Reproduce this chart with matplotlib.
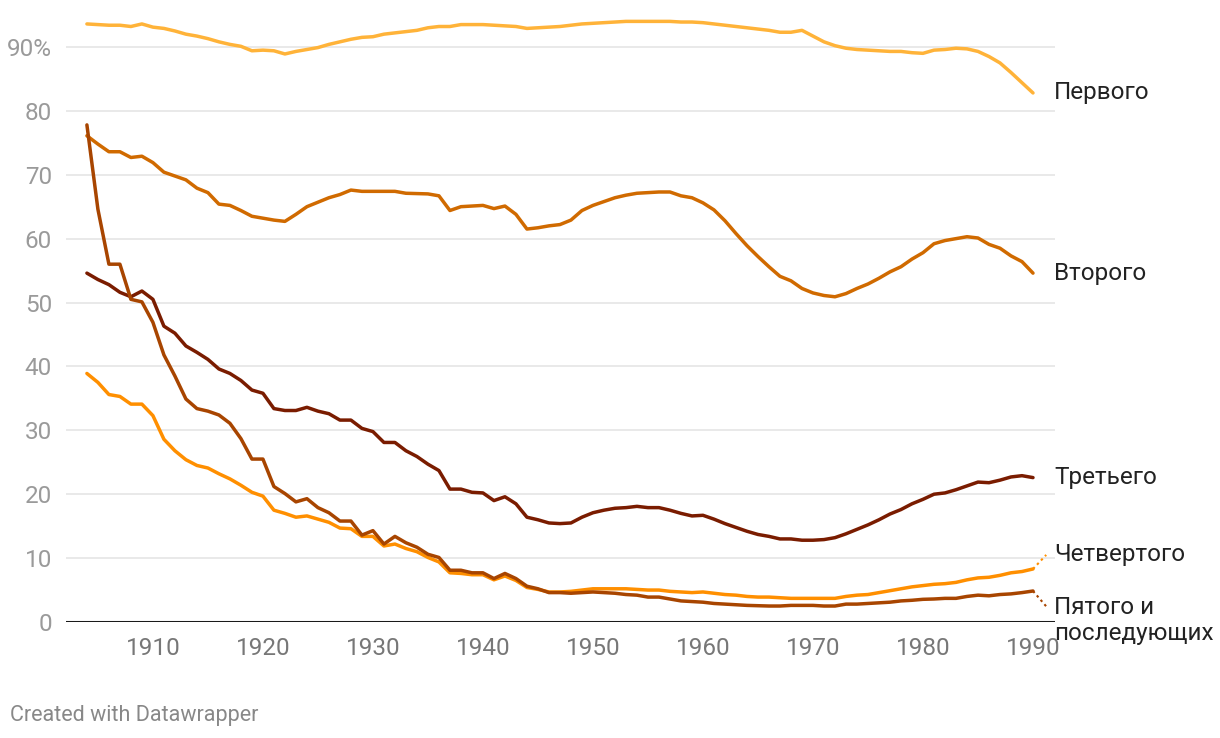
import numpy as np
import matplotlib.pyplot as plt

plt.rcParams['font.family'] = ['Roboto', 'DejaVu Sans']

years = list(range(1904, 1991))

first = [93.6, 93.5, 93.4, 93.4, 93.2, 93.6, 93.1, 92.9, 92.5, 92.0,
         91.7, 91.3, 90.8, 90.4, 90.1, 89.4, 89.5, 89.4, 88.9, 89.3,
         89.6, 89.9, 90.4, 90.8, 91.2, 91.5, 91.6, 92.0, 92.2, 92.4,
         92.6, 93.0, 93.2, 93.2, 93.5, 93.5, 93.5, 93.4, 93.3, 93.2,
         92.9, 93.0, 93.1, 93.2, 93.4, 93.6, 93.7, 93.8, 93.9, 94.0,
         94.0, 94.0, 94.0, 94.0, 93.9, 93.9, 93.8, 93.6, 93.4, 93.2,
         93.0, 92.8, 92.6, 92.3, 92.3, 92.6, 91.7, 90.8, 90.2, 89.8,
         89.6, 89.5, 89.4, 89.3, 89.3, 89.1, 89.0, 89.5, 89.6, 89.8,
         89.7, 89.3, 88.5, 87.5, 86.0, 84.4, 82.8]

second = [76.1, 74.8, 73.6, 73.6, 72.7, 72.9, 71.9, 70.4, 69.8, 69.2,
          67.9, 67.2, 65.4, 65.2, 64.4, 63.5, 63.2, 62.9, 62.7, 63.8,
          65.0, 65.7, 66.4, 66.9, 67.6, 67.4, 67.4, 67.4, 67.4, 67.1,
          67.05, 67.0, 66.7, 64.4, 65.0, 65.1, 65.2, 64.7, 65.1, 63.8,
          61.5, 61.7, 62.0, 62.2, 62.9, 64.4, 65.2, 65.8, 66.4, 66.8,
          67.1, 67.2, 67.3, 67.3, 66.7, 66.4, 65.6, 64.5, 62.8, 60.8,
          58.9, 57.2, 55.6, 54.1, 53.4, 52.2, 51.5, 51.1, 50.9, 51.4,
          52.2, 52.9, 53.8, 54.8, 55.6, 56.8, 57.8, 59.2, 59.7, 60.0,
          60.3, 60.1, 59.1, 58.5, 57.3, 56.4, 54.6]

third = [54.6, 53.6, 52.8, 51.6, 50.9, 51.8, 50.5, 46.3, 45.2, 43.2,
         42.2, 41.1, 39.6, 38.9, 37.8, 36.3, 35.8, 33.4, 33.1, 33.1,
         33.6, 33.0, 32.6, 31.6, 31.6, 30.3, 29.8, 28.1, 28.1, 26.8,
         25.9, 24.7, 23.7, 20.8, 20.8, 20.3, 20.2, 19.0, 19.6, 18.5,
         16.4, 16.0, 15.5, 15.4, 15.5, 16.4, 17.1, 17.5, 17.8, 17.9,
         18.1, 17.9, 17.9, 17.5, 17.0, 16.6, 16.7, 16.1, 15.4, 14.8,
         14.2, 13.7, 13.4, 13.0, 13.0, 12.8, 12.8, 12.9, 13.2, 13.8,
         14.5, 15.2, 16.0, 16.9, 17.6, 18.5, 19.2, 20.0, 20.2, 20.7,
         21.3, 21.9, 21.8, 22.2, 22.7, 22.9, 22.6]

fourth = [38.9, 37.5, 35.6, 35.3, 34.1, 34.1, 32.3, 28.6, 26.8, 25.4,
          24.5, 24.1, 23.2, 22.4, 21.4, 20.3, 19.7, 17.5, 17.0, 16.4,
          16.6, 16.1, 15.6, 14.7, 14.6, 13.4, 13.4, 11.9, 12.2, 11.5,
          11.0, 10.1, 9.4, 7.7, 7.6, 7.4, 7.4, 6.6, 7.2, 6.5,
          5.4, 5.1, 4.7, 4.7, 4.8, 5.0, 5.2, 5.2, 5.2, 5.2,
          5.1, 5.0, 5.0, 4.8, 4.7, 4.6, 4.7, 4.5, 4.3, 4.2,
          4.0, 3.9, 3.9, 3.8, 3.7, 3.7, 3.7, 3.7, 3.7, 4.0,
          4.2, 4.3, 4.6, 4.9, 5.2, 5.5, 5.7, 5.9, 6.0, 6.2,
          6.6, 6.9, 7.0, 7.3, 7.7, 7.9, 8.3]

fifth = [77.8, 64.6, 56.0, 56.0, 50.5, 50.1, 46.9, 41.8, 38.5, 34.9,
         33.4, 33.0, 32.4, 31.1, 28.7, 25.5, 25.5, 21.2, 20.1, 18.8,
         19.3, 17.9, 17.1, 15.8, 15.8, 13.6, 14.3, 12.2, 13.4, 12.4,
         11.7, 10.6, 10.1, 8.1, 8.1, 7.7, 7.7, 6.8, 7.6, 6.8,
         5.6, 5.2, 4.6, 4.6, 4.5, 4.6, 4.7, 4.6, 4.5, 4.3,
         4.2, 3.9, 3.9, 3.6, 3.3, 3.2, 3.1, 2.9, 2.8, 2.7,
         2.6, 2.55, 2.5, 2.5, 2.6, 2.6, 2.6, 2.5, 2.5, 2.8,
         2.8, 2.9, 3.0, 3.1, 3.3, 3.4, 3.55, 3.6, 3.7, 3.7,
         4.0, 4.2, 4.1, 4.3, 4.4, 4.6, 4.85]

names = ['Первого', 'Второго', 'Третьего', 'Четвертого', 'Пятого и\nпоследующих']
colors = ['#ffb339', '#d06a00', '#7a1c00', '#ff8f00', '#a84500']
# label shift from the line end, in data units (0 = no leader line)
label_shift = [0, 0, 0, 2.2, -2.4]

series = [first, second, third, fourth, fifth]

fig = plt.figure(figsize=(12.2, 7.38), dpi=100)
ax = fig.add_axes([66 / 1220, 1 - 622 / 738, (1055 - 66) / 1220, (622 - 15) / 738])

for vals, col in zip(series, colors):
    ax.plot(years, vals, color=col, lw=2.5, solid_capstyle='round',
            solid_joinstyle='round', zorder=3)

ax.set_xlim(1902.1, 1992.0)
ax.set_ylim(0, 95)

line_gap = 4.4  # height of one label line, in data units
for i, (vals, col, name) in enumerate(zip(series, colors, names)):
    y_end = vals[-1]
    y_lab = y_end + label_shift[i]
    if label_shift[i] != 0:
        ax.plot([years[-1], years[-1] + 1.2], [y_end, y_lab], color=col,
                lw=1.5, ls=(0, (1.2, 1.6)), clip_on=False, zorder=3)
    n = name.count('\n')
    ax.text(years[-1] + 1.9, y_lab - n * line_gap / 2, name, fontsize=17.5,
            color='#222222', va='center', ha='left', linespacing=1.15,
            clip_on=False)

yt = list(range(0, 100, 10))
ax.set_yticks(yt)
ax.set_yticklabels([str(v) if v != 90 else '90%' for v in yt])
ax.set_xticks(list(range(1910, 2000, 10)))
ax.tick_params(axis='y', length=0, labelsize=17.5, labelcolor='#9a9a9a', pad=10)
ax.tick_params(axis='x', length=0, labelsize=17.5, labelcolor='#777777', pad=11)

ax.grid(axis='y', color='#e5e5e5', lw=1.2, zorder=0)
ax.axhline(0, color='#1a1a1a', lw=2.2, zorder=4)
for s in ax.spines.values():
    s.set_visible(False)

fig.text(10 / 1220, 1 - 715 / 738, 'Created with Datawrapper', fontsize=15.5,
         color='#888888', va='center', ha='left')

fig.savefig('out.png', dpi=100)
